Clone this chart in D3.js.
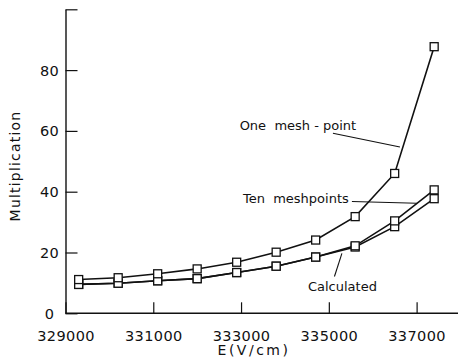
<!DOCTYPE html>
<html>
<head>
<meta charset="utf-8">
<script src="https://cdn.jsdelivr.net/npm/d3@7"></script>
<style>
  html, body { margin: 0; padding: 0; background: #fff; }
  svg text { font-family: "DejaVu Sans", sans-serif; fill: #111; white-space: pre; }
</style>
</head>
<body>
<svg id="chart" width="458" height="357"></svg>
<script>
// Field strength E (V/cm) at each calculation point
const fieldE = [329300, 330200, 331100, 332000, 332900, 333800, 334700, 335600, 336500, 337400];
// Multiplication for each method
const oneMeshPoint = [11.1, 11.7, 13.0, 14.6, 16.8, 20.1, 24.1, 31.8, 46.0, 87.7];
const tenMeshPoints = [9.5, 9.9, 10.7, 11.4, 13.4, 15.5, 18.5, 22.2, 30.4, 40.6];
const calculated = [9.5, 9.9, 10.7, 11.4, 13.4, 15.5, 18.5, 21.8, 28.5, 37.7];

const xTicks = [329000, 331000, 333000, 335000, 337000];
const yTicks = [0, 20, 40, 60, 80, 100];
const yTickLabels = ["0", "20", "40", "60", "80", ""];

// Curve labels with leader lines, in data units: [E, M] text anchor, leader start, leader end
const labels = [
  { text: "One  mesh - point", at: [332968, 60.3], from: [335093, 59.2], to: [336620, 54.7] },
  { text: "Ten  meshpoints", at: [333043, 36.3], from: [335526, 36.8], to: [337006, 36.2] },
  { text: "Calculated", at: [334524, 7.3], from: [335128, 12.1], to: [335298, 19.7] }
];

const svg = d3.select("#chart");
const x = d3.scaleLinear().domain([329000, 338000]).range([65.5, 460.5]);
const y = d3.scaleLinear().domain([0, 100]).range([313.3, 9.3]);

const ink = "#111";

// Axes with inward ticks
const xAxis = svg.append("g").attr("transform", `translate(0,${y(0)})`)
  .call(d3.axisBottom(x).tickValues(xTicks).tickSizeInner(-11).tickSizeOuter(0).tickPadding(17)
    .tickFormat(d3.format("d")));
const yAxis = svg.append("g").attr("transform", `translate(${x(329000)},0)`)
  .call(d3.axisLeft(y).tickValues(yTicks).tickSizeInner(-12).tickSizeOuter(0).tickPadding(22)
    .tickFormat((d, i) => yTickLabels[i]));

[xAxis, yAxis].forEach(g => {
  g.select(".domain").attr("stroke", ink).attr("stroke-width", 1.4);
  g.selectAll(".tick line").attr("stroke", ink).attr("stroke-width", 1.2);
  g.selectAll(".tick text").attr("font-size", 14.5).attr("fill", ink)
    .attr("font-family", "'DejaVu Sans', sans-serif").attr("letter-spacing", 0.4);
});
xAxis.select(".domain").attr("d", `M${x(329000)},0H458`);
yAxis.selectAll(".tick text").attr("dy", "0.35em").attr("text-anchor", "middle").attr("dx", "6");

// Axis titles
svg.append("text").attr("x", 254).attr("y", 355).attr("text-anchor", "middle")
  .attr("font-size", 14).attr("letter-spacing", 2.5).text("E(V/cm)");
svg.append("text").attr("transform", "translate(20,166) rotate(-90)").attr("text-anchor", "middle")
  .attr("font-size", 14).attr("letter-spacing", 1.2).text("Multiplication");

// Series lines and square markers
const series = [calculated, tenMeshPoints, oneMeshPoint];
const line = d3.line().x((d, i) => x(fieldE[i])).y(d => y(d));
series.forEach(vals => {
  svg.append("path").datum(vals).attr("d", line)
    .attr("fill", "none").attr("stroke", ink).attr("stroke-width", 1.6);
});
const m = 8;
series.forEach(vals => {
  svg.append("g").selectAll("rect").data(vals).join("rect")
    .attr("x", (d, i) => x(fieldE[i]) - m / 2)
    .attr("y", d => y(d) - m / 2)
    .attr("width", m).attr("height", m)
    .attr("fill", "#fff").attr("stroke", ink).attr("stroke-width", 1.3);
});

// Curve labels and leader lines
labels.forEach(l => {
  svg.append("line")
    .attr("x1", x(l.from[0])).attr("y1", y(l.from[1]))
    .attr("x2", x(l.to[0])).attr("y2", y(l.to[1]))
    .attr("stroke", ink).attr("stroke-width", 1.1);
  svg.append("text").attr("x", x(l.at[0])).attr("y", y(l.at[1]))
    .attr("font-size", 13).text(l.text);
});
</script>
</body>
</html>
